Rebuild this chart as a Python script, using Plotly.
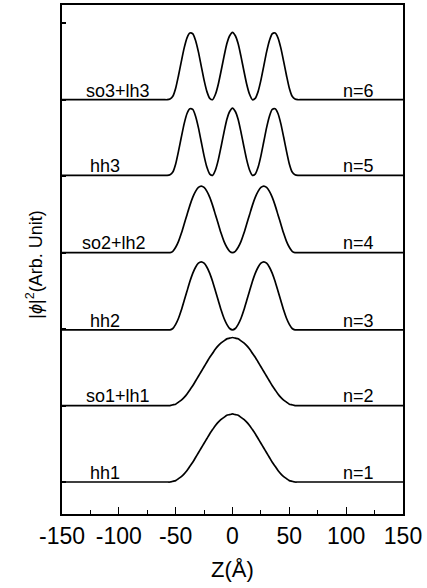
import plotly.graph_objects as go

# Z positions (Angstrom) of the sampled points
z_grid = [-150,
          -62.5, -60, -57.5, -55, -52.5, -50, -47.5, -45, -42.5, -40,
          -37.5, -35, -32.5, -30, -27.5, -25, -22.5, -20, -17.5, -15,
          -12.5, -10, -7.5, -5, -2.5, 0, 2.5, 5, 7.5, 10,
          12.5, 15, 17.5, 20, 22.5, 25, 27.5, 30, 32.5, 35,
          37.5, 40, 42.5, 45, 47.5, 50, 52.5, 55, 57.5, 60, 62.5,
          150]

# normalised |phi|^2 (ground, first excited, second excited)
shape_1 = [0, 0, 0, 0, 0, 0.01, 0.02, 0.05, 0.08, 0.12, 0.17, 0.23, 0.29, 0.36, 0.43,
           0.50, 0.57, 0.64, 0.71, 0.77, 0.83, 0.88, 0.92, 0.95, 0.98, 0.99, 1.00,
           0.99, 0.98, 0.95, 0.92, 0.88, 0.83, 0.77, 0.71, 0.64, 0.57, 0.50, 0.43,
           0.36, 0.29, 0.23, 0.17, 0.12, 0.08, 0.05, 0.02, 0.01, 0, 0, 0, 0, 0]
shape_2 = [0, 0, 0, 0, 0, 0.02, 0.08, 0.17, 0.29, 0.43, 0.57, 0.71, 0.83, 0.92, 0.98,
           1.00, 0.98, 0.92, 0.83, 0.71, 0.57, 0.43, 0.29, 0.17, 0.08, 0.02, 0.00,
           0.02, 0.08, 0.17, 0.29, 0.43, 0.57, 0.71, 0.83, 0.92, 0.98, 1.00, 0.98,
           0.92, 0.83, 0.71, 0.57, 0.43, 0.29, 0.17, 0.08, 0.02, 0, 0, 0, 0, 0]
shape_3 = [0, 0, 0, 0, 0.01, 0.05, 0.17, 0.36, 0.57, 0.77, 0.92, 0.99, 0.98, 0.88, 0.71,
           0.50, 0.29, 0.12, 0.02, 0.00, 0.08, 0.23, 0.43, 0.64, 0.83, 0.95, 1.00,
           0.95, 0.83, 0.64, 0.43, 0.23, 0.08, 0.00, 0.02, 0.12, 0.29, 0.50, 0.71,
           0.88, 0.98, 0.99, 0.92, 0.77, 0.57, 0.36, 0.17, 0.05, 0.01, 0, 0, 0, 0]

state_names = ["hh1", "so1+lh1", "hh2", "so2+lh2", "hh3", "so3+lh3"]
n_labels = ["n=1", "n=2", "n=3", "n=4", "n=5", "n=6"]
state_shapes = [shape_1, shape_1, shape_2, shape_2, shape_3, shape_3]
peak_heights = [0.89, 0.89, 0.89, 0.87, 0.88, 0.88]
baselines = [0, 1.0, 1.99, 3.0, 4.01, 5.0]
left_label_x = [-127, -131, -127, -134, -127, -131]

x_tick_vals = [-150, -100, -50, 0, 50, 100, 150]
x_tick_text = ["-150", "-100", "-50", "0", "50", "100", "150"]
x_minor_vals = [-125, -75, -25, 25, 75, 125]

FONT = "Liberation Sans, Arial, Helvetica, sans-serif"

fig = go.Figure()
for shp, amp, base in zip(state_shapes, peak_heights, baselines):
    fig.add_trace(go.Scatter(
        x=z_grid, y=[base + amp * v for v in shp], mode="lines",
        line=dict(color="black", width=1.7, shape="spline", smoothing=0.6),
        showlegend=False, hoverinfo="skip"))

annotations = []
for name, nl, base, lx in zip(state_names, n_labels, baselines, left_label_x):
    annotations.append(dict(x=lx, y=base + 0.12, xref="x", yref="y", text=name,
                            showarrow=False, xanchor="left", yanchor="middle",
                            font=dict(family=FONT, size=18, color="black")))
    annotations.append(dict(x=126, y=base + 0.12, xref="x", yref="y", text=nl,
                            showarrow=False, xanchor="right", yanchor="middle",
                            font=dict(family=FONT, size=18, color="black")))

annotations.append(dict(x=0, y=-0.11, xref="x", yref="paper", text="Z(Å)",
                        showarrow=False, xanchor="center", yanchor="middle",
                        font=dict(family=FONT, size=22, color="black")))
annotations.append(dict(x=-0.079, y=0.49, xref="paper", yref="paper",
                        text="|<i>ϕ</i>|<sup>2</sup>(Arb. Unit)", textangle=-90,
                        showarrow=False, xanchor="center", yanchor="middle",
                        font=dict(family=FONT, size=18, color="black")))

fig.update_layout(
    width=427, height=588,
    margin=dict(l=62, r=24, t=5, b=74, autoexpand=False),
    paper_bgcolor="white", plot_bgcolor="white",
    annotations=annotations,
    xaxis=dict(range=[-150, 150], tickvals=x_tick_vals, ticktext=x_tick_text,
               ticks="inside", ticklen=7, tickwidth=1.3, tickcolor="black",
               minor=dict(tickvals=x_minor_vals, ticks="inside",
                          ticklen=4, tickwidth=1.3, tickcolor="black"),
               showline=True, linecolor="black", linewidth=1.8, mirror=True,
               showgrid=False, zeroline=False,
               tickfont=dict(family=FONT, size=23, color="black"),
               ticklabelstandoff=0),
    yaxis=dict(range=[-0.4185, 6.2385], tickvals=[0, 1, 2, 3, 4, 5, 6],
               ticks="inside", ticklen=4, tickwidth=1.5, tickcolor="black",
               showticklabels=False,
               showline=True, linecolor="black", linewidth=1.8, mirror=True,
               showgrid=False, zeroline=False),
)

fig.write_html("out.html")
